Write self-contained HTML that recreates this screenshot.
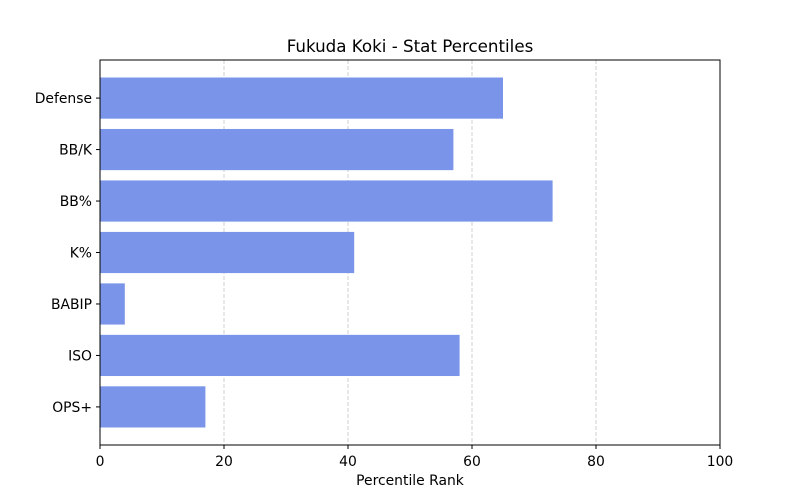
<!DOCTYPE html>
<html><head><meta charset="utf-8"><style>
body{margin:0;background:#fff;}
svg{display:block;font-family:"DejaVu Sans","Liberation Sans",sans-serif;}
</style></head><body>
<svg id="chart" width="800" height="500">
<text x="410" y="52" text-anchor="middle" font-size="16.7">Fukuda Koki - Stat Percentiles</text>
<g id="grid"></g><g id="bars"></g><g id="axes"></g>
<text x="410" y="485" text-anchor="middle" font-size="13.9">Percentile Rank</text>
</svg>
<script>
const categories=["OPS+","ISO","BABIP","K%","BB%","BB/K","Defense"];
const values=[17,58,4,41,73,57,65];
const xTicks=[0,20,40,60,80,100];
const L=100,R=720,T=60,B=445;
const NS="http://www.w3.org/2000/svg";
const yMin=-0.74,yMax=categories.length-1+0.74;
function xS(v){return L+(v/100)*(R-L);}
function yS(i){return B-(i-yMin)/(yMax-yMin)*(B-T);}
const step=(B-T)/(yMax-yMin);
function mk(tag,attrs,parent){const e=document.createElementNS(NS,tag);for(const k in attrs)e.setAttribute(k,attrs[k]);parent.appendChild(e);return e;}
const grid=document.getElementById('grid'),bars=document.getElementById('bars'),axes=document.getElementById('axes');
xTicks.forEach(t=>{
  if(t>0&&t<100){const g=mk('line',{x1:xS(t),x2:xS(t),y1:T,y2:B,stroke:'#c4c4c4','stroke-dasharray':'4,2','stroke-width':0.8},grid);
  
  }
  const tk=mk('line',{x1:xS(t),x2:xS(t),y1:B,y2:B+4,stroke:'#000'},axes);
  
  
  const tl=mk('text',{x:xS(t),y:B+21,'text-anchor':'middle','font-size':13.9},axes);
  tl.textContent=t;
  
  
});
categories.forEach((c,i)=>{
  const h=0.8*step,yc=yS(i);
  const r=mk('rect',{x:xS(0),y:yc-h/2,width:xS(values[i])-xS(0),height:h,fill:'#7994e8'},bars);
  
  
  const tk=mk('line',{x1:L-4,x2:L,y1:yc,y2:yc,stroke:'#000'},axes);
  
  
  const tl=mk('text',{x:L-8,y:yc+5,'text-anchor':'end','font-size':13.9},axes);
  tl.textContent=c;
  
  
});
const fr=mk('rect',{x:L,y:T,width:R-L,height:B-T,fill:'none',stroke:'#000','stroke-width':1},axes);


</script>
</body></html>
